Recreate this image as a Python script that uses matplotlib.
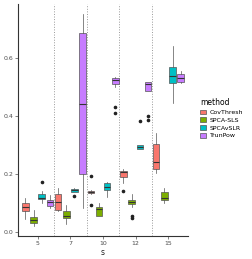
import matplotlib
matplotlib.use("Agg")
import matplotlib.pyplot as plt
from matplotlib.patches import Patch

s_values = ["5", "7", "10", "12", "15"]
methods = ["CovThresh", "SPCA-SLS", "SPCAvSLR", "TrunPow"]
colors = ["#F8766D", "#7CAE00", "#00BFC4", "#C77CFF"]

# box stats per method, one entry per s
cov_med = [0.086, 0.101, 0.138, 0.205, 0.239]
cov_q1 = [0.071, 0.075, 0.132, 0.188, 0.215]
cov_q3 = [0.100, 0.130, 0.141, 0.210, 0.301]
cov_lo = [0.043, 0.071, 0.130, 0.169, 0.203]
cov_hi = [0.115, 0.152, 0.143, 0.215, 0.339]
cov_out = [[], [], [0.192, 0.091], [0.141], []]

sls_med = [0.040, 0.055, 0.077, 0.103, 0.115]
sls_q1 = [0.029, 0.046, 0.054, 0.096, 0.108]
sls_q3 = [0.050, 0.072, 0.084, 0.109, 0.138]
sls_lo = [0.020, 0.025, 0.054, 0.084, 0.100]
sls_hi = [0.075, 0.092, 0.098, 0.130, 0.150]
sls_out = [[], [], [], [0.054, 0.046], []]

vslr_med = [0.116, 0.143, 0.155, 0.293, 0.538]
vslr_q1 = [0.112, 0.138, 0.144, 0.284, 0.512]
vslr_q3 = [0.130, 0.147, 0.169, 0.299, 0.566]
vslr_lo = [0.098, 0.136, 0.119, 0.284, 0.443]
vslr_hi = [0.140, 0.152, 0.172, 0.299, 0.640]
vslr_out = [[0.171], [0.123], [], [0.382], []]

tp_med = [0.103, 0.440, 0.523, 0.508, 0.529]
tp_q1 = [0.089, 0.198, 0.508, 0.485, 0.517]
tp_q3 = [0.109, 0.684, 0.529, 0.517, 0.543]
tp_lo = [0.083, 0.081, 0.500, 0.485, 0.512]
tp_hi = [0.127, 0.751, 0.534, 0.517, 0.552]
tp_out = [[], [], [0.431, 0.408], [0.397, 0.385], []]

all_stats = [
    (cov_med, cov_q1, cov_q3, cov_lo, cov_hi, cov_out),
    (sls_med, sls_q1, sls_q3, sls_lo, sls_hi, sls_out),
    (vslr_med, vslr_q1, vslr_q3, vslr_lo, vslr_hi, vslr_out),
    (tp_med, tp_q1, tp_q3, tp_lo, tp_hi, tp_out),
]

offsets = [-0.375, -0.125, 0.125, 0.375]
edge = "#555555"

fig = plt.figure(figsize=(2.52, 2.59), dpi=100)
ax = fig.add_axes([0.0714, 0.089, 0.675, 0.896])

for k, (med, q1, q3, lo, hi, out) in enumerate(all_stats):
    stats = []
    for i in range(len(s_values)):
        stats.append(dict(med=med[i], q1=q1[i], q3=q3[i], whislo=lo[i],
                          whishi=hi[i], fliers=out[i]))
    pos = [i + 1 + offsets[k] for i in range(len(s_values))]
    ax.bxp(stats, positions=pos, widths=0.2, patch_artist=True, showcaps=False,
           boxprops=dict(facecolor=colors[k], edgecolor=edge, linewidth=0.5),
           whiskerprops=dict(color=edge, linewidth=0.5),
           medianprops=dict(color="#333333", linewidth=0.8),
           flierprops=dict(marker="o", markersize=1.6, markerfacecolor="#222222",
                           markeredgecolor="#222222"), zorder=3)

for x in [1.5, 2.5, 3.5, 4.5]:
    ax.axvline(x, color="#999999", linestyle=":", linewidth=0.7, zorder=1)

ax.set_xlim(0.4, 5.6)
ax.set_ylim(-0.015, 0.785)
ax.set_xticks(range(1, len(s_values) + 1))
ax.set_xticklabels(s_values)
ax.set_yticks([0.0, 0.2, 0.4, 0.6])
ax.set_yticklabels(["0.0", "0.2", "0.4", "0.6"])
ax.tick_params(labelsize=4.5, colors="#4d4d4d", length=2, width=0.5, pad=1.5)
ax.set_xlabel("s", fontsize=5.5, color="#222222", labelpad=1.5)
for side in ["top", "right"]:
    ax.spines[side].set_visible(False)
for side in ["left", "bottom"]:
    ax.spines[side].set_linewidth(0.8)
    ax.spines[side].set_color("#333333")

handles = [Patch(facecolor=c, edgecolor=edge, linewidth=0.5) for c in colors]
leg = fig.legend(handles, methods, title="method", loc="upper left",
                 bbox_to_anchor=(0.785, 0.63), frameon=False, fontsize=4.5,
                 title_fontsize=5.5, handlelength=0.9, handleheight=0.8,
                 handletextpad=0.6, labelspacing=0.35, borderaxespad=0)
leg._legend_box.align = "left"

fig.savefig("out.png", dpi=100)
